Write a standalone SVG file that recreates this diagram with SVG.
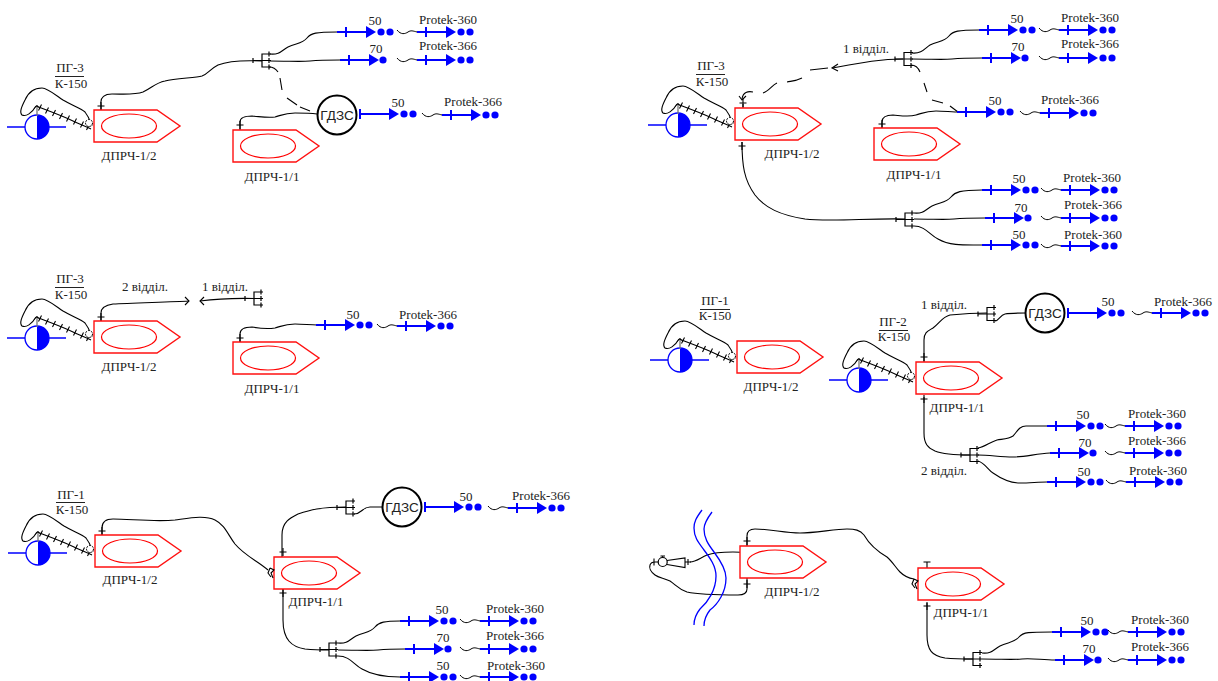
<svg xmlns="http://www.w3.org/2000/svg" width="1218" height="681" viewBox="0 0 1218 681">
<style>
text{font-family:"Liberation Serif","Times New Roman",serif;font-size:13px;fill:#222;text-anchor:middle}
.g{font-family:"Liberation Sans",Arial,sans-serif;font-size:13.5px}
.h{fill:none;stroke:#000;stroke-width:1.1}
.r{fill:#fff;stroke:#f11;stroke-width:1.4}
.e{fill:none;stroke:#f00;stroke-width:1.2}
.b{fill:none;stroke:#00f;stroke-width:2}
.bf{fill:#00f;stroke:none}
.w{fill:none;stroke:#00f;stroke-width:1.3}
.c{fill:#fff;stroke:#000;stroke-width:2}
</style>
<defs>
<g id="ship"><path class="r" d="M0 0H63L86 16L63 32H0Z"/><ellipse class="e" cx="35" cy="16" rx="27.500" ry="12"/></g>
<g id="tipA"><path class="b" d="M0 0H30M9-5V5"/><path class="bf" d="M29-6L39 0L29 6Z"/></g>
<g id="a2"><use href="#tipA"/><circle class="bf" cx="44" cy="0" r="3.600"/><circle class="bf" cx="53" cy="0" r="3.600"/></g>
<g id="a1"><use href="#tipA"/><circle class="bf" cx="43" cy="0" r="3.600"/></g>
<g id="ag"><path class="b" d="M0 0H30M0-5V5"/><path class="bf" d="M29-6L39 0L29 6Z"/><circle class="bf" cx="44" cy="0" r="3.600"/><circle class="bf" cx="53" cy="0" r="3.600"/></g>
<g id="far"><path class="h" style="stroke-width:1" d="M0-2C4 3 8 2 11 0S16-1 20 0"/><use href="#a2" x="20"/></g>
<g id="split"><path class="h" style="stroke-width:1.200" d="M9-6.500H0V6.500H9M-9 0H9M-9-2.500V2.500M7-9V-4M7-2.500V2.500M7 4V9"/></g>
<g id="pump"><path class="w" style="stroke-width:1.400" d="M-30 0H-12M12 0H29"/><path class="bf" d="M0-12A12 12 0 0 1 0 12Z"/><circle cx="0" cy="0" r="12" fill="none" stroke="#00f" stroke-width="1.300"/></g>
<g id="rig">
<path d="M0-11V-20" stroke="#777" stroke-width="1.300"/><path d="M-3-18L0-22L3-18" fill="none" stroke="#555"/>
<path class="h" d="M55-1C53-6 52-10 48-15C44-19 36-21 26-27C16-34 10-39 5-39C-3-39-9-34-12-27C-15-21-18-15-15-12C-11-10-5-14-1-21"/>
<path class="h" d="M-1-21C12-16 26-11 36-6C42-3 48-1 54 2"/>
<path class="h" d="M1.500-16.500L4.500-22.500M8.500-13.500L11.500-19.500M15.500-11L18.500-17M22.500-8L25.500-14M29.500-5.500L32.500-11.500M36.500-2.500L39.500-8.500M43.500 .5L46.500-5.500M49.500 3L52.500-3"/>
<circle cx="52" cy="-4" r="3.500" fill="#fff" stroke="#000" stroke-dasharray="2 1"/>
</g>
<g id="hook"><path class="h" d="M-4 1L0 3L-3 6L-1 11M-4 1L-6 6L-3 10"/></g>
<g id="tick"><path class="h" d="M-3.500 0H3.500M0-4V4"/></g>
<g id="tee"><path class="h" d="M-3.500-3H3.500M0-3V4"/></g>
</defs>

<g id="connectors">
<path class="h" d="M101 110V104C100 97 105 94 112 94C125 94 135 95 143 92C152 88 155 83 165 81C175 78 195 78 202 76C208 74 210 69 218 65C228 61 240 60 262 61"/>
<path class="h" d="M270 54C280 55 282 50 288 47C296 43 302 44 307 38C311 33 316 32 337 32"/>
<path class="h" d="M270 61C290 61 300 62 310 61C320 60 330 60 340 60"/>
<path class="h" d="M269 67C273 67 276 69 278 72M280 78L282 90M287 98L297 105M300 107L310 111"/>
<path class="h" d="M240 130V122C240 117 245 116 252 116C263 117 268 118 275 117C282 115 285 113 295 113C303 113 310 113 317 114"/>

<path class="h" d="M903 59C880 59 860 63 833 68"/>
<path class="h" d="M838 64L832 68L838 71"/>
<path class="h" d="M828 68L810 70M802 78C796 81 792 81 787 82M777 83C772 85 769 91 763 93M753 92C748 91 743 92 742 99"/>
<path class="h" d="M739 96L742 100L746 96M743 104V108"/>
<path class="h" d="M912 53C922 54 925 48 930 45C938 41 944 42 949 36C953 31 958 30 979 30"/>
<path class="h" d="M912 59C932 59 942 60 952 59C962 58 972 58 982 58"/>
<path class="h" d="M911 65C915 65 918 67 920 72M924 83L927 92M932 100L943 103M950 106L958 112"/>
<path class="h" d="M882 128V122C882 117 886 115 893 115C904 116 909 117 916 115C923 113 926 111 936 111C944 111 952 112 960 112"/>
<path class="h" d="M742 142C742 165 744 180 755 195C765 208 780 215 805 219C830 222 870 218 905 219"/>
<path class="h" d="M914 213C924 214 926 209 932 206C940 202 946 203 951 197C955 192 960 190 982 190"/>
<path class="h" d="M914 219C934 219 944 220 954 219C964 218 974 218 985 218"/>
<path class="h" d="M914 226C925 226 930 235 938 239C950 246 965 245 982 245"/>

<path class="h" d="M101 321V313C101 307 106 305 113 304C130 303 170 302 189 301"/>
<path class="h" d="M185 297L189 301L185 305"/>
<path class="h" d="M254 298.500C230 298 215 299 200 301"/>
<path class="h" d="M204 297L200 301L204 305"/>
<path class="h" d="M240 342V334C240 329 245 327 252 327C263 329 268 329 275 328C282 326 285 324 295 324C303 324 310 325 317 325"/>

<path class="h" d="M102 535V528C102 522 106 519 113 519C130 519 155 522 175 520C190 518 205 515 215 520C225 525 228 535 235 544C245 556 258 561 268 570"/>
<path class="h" d="M282 557V535C282 522 290 518 298 514C310 510 320 507 346 507"/>
<path class="h" d="M354 514C362 514 362 507 370 507H382"/>
<path class="h" d="M283 589V620C283 640 292 647 305 649C315 650 320 650 329 650"/>
<path class="h" d="M338 643C348 644 350 639 356 636C364 632 370 633 375 627C379 622 385 621 400 621"/>
<path class="h" d="M338 650C358 650 368 651 378 650C388 649 398 649 405 649"/>
<path class="h" d="M338 656C350 656 354 665 362 669C374 676 388 677 400 677"/>

<path class="h" d="M924 362V340C924 332 928 331 933 328C940 323 942 317 950 315C960 314 970 313 987 313"/>
<path class="h" d="M995 321C999 321 1000 315 1005 314C1010 313 1018 313 1026 313"/>
<path class="h" d="M924 397V433C924 444 928 448 935 451C945 455 960 455 970 455"/>
<path class="h" d="M978 448C985 447 990 442 997 440C1003 439 1009 439 1013 436C1017 432 1019 426 1026 426H1047"/>
<path class="h" d="M978 455C990 455 1000 457 1013 457C1025 457 1035 454 1050 453"/>
<path class="h" d="M978 461C985 463 988 470 993 473C1003 480 1012 483 1020 483C1030 483 1038 482 1047 482"/>

<path class="h" d="M747 546V536C747 531 750 529 755 529C770 529 785 533 800 533C815 533 835 529 847 529C855 529 860 530 864 535C868 542 875 550 887 557C892 561 896 568 900 572C904 576 908 578 914 579"/>
<path class="h" d="M927 603V635C927 650 932 656 945 658C955 659 963 659 973 659"/>
<path class="h" d="M982 653C992 654 994 649 1000 646C1008 642 1014 643 1019 637C1023 632 1029 632 1052 632"/>
<path class="h" d="M982 659C1002 659 1012 660 1022 659C1032 658 1042 660 1055 660"/>
<path class="h" d="M747 578V589C747 593 743 595 738 595C725 595 700 595 687 592C678 589 676 585 670 581C664 578 659 578 655 575C651 572 649 568 650 565C651 562 653 562 655 562"/>
<path class="h" d="M690 562C696 562 700 558 707 555C715 552 725 552 733 552C745 552 752 554 756 557C758 558 759 559 760 560"/>
<circle cx="760" cy="560" r="1.800"/>
<path class="w" style="stroke-width:1.300" d="M702 510C696 518 694 522 694 528C694 537 698 542 704 550C710 558 716 566 716 576C716 590 708 602 700 609C696 614 694 619 694 625"/>
<path class="w" style="stroke-width:1.300" d="M712 512C706 520 704 524 704 529C704 538 708 544 714 552C720 560 726 570 726 578C726 592 718 604 710 610C706 615 704 620 704 626"/>
<path class="h" d="M654 558.500V565.500M659 562H655M660.500 556H665M662.700 556V558"/>
<circle cx="662.700" cy="562" r="4.500" fill="#fff" stroke="#000" stroke-width="1.200"/>
<path class="h" d="M667 560.500L685 558V567.500L667 564.500M685 562H691M688 559V565"/>
</g>

<use href="#tick" x="101" y="106"/><use href="#tick" x="240" y="125"/><use href="#tick" x="743" y="103"/><use href="#tick" x="882" y="124"/><use href="#tick" x="742" y="146"/><use href="#tick" x="101" y="317"/><use href="#tick" x="240" y="338"/><use href="#tick" x="102" y="531"/><use href="#tick" x="283" y="552"/><use href="#tick" x="283" y="593"/><use href="#tick" x="924" y="357"/><use href="#tick" x="924" y="399"/><use href="#tick" x="747" y="541"/><use href="#tick" x="747" y="584"/><use href="#tee" x="927" y="565"/><use href="#tick" x="927" y="606"/>

<g id="panel-a">
<g id="pg3-a"><use href="#pump" x="37" y="127"/><use href="#rig" x="37" y="127"/><path d="M55 76.500H84" stroke="#222"/><text x="70" y="72">ПГ-3</text><text x="71" y="88">К-150</text></g>
<g id="dprch12-a"><use href="#ship" x="94" y="110"/><text x="129" y="160">ДПРЧ-1/2</text></g>
<g id="dprch11-a"><use href="#ship" x="233" y="130"/><text x="272" y="181">ДПРЧ-1/1</text></g>
<g id="split-a"><use href="#split" x="262" y="60.500"/></g>
<g id="gdzs-a"><circle class="c" cx="337" cy="115" r="19.500"/><text class="g" x="337" y="120">ГДЗС</text></g>
<use href="#a2" x="337" y="32"/><text x="375" y="25">50</text><use href="#far" x="397" y="32"/><text x="448" y="24">Protek-360</text>
<use href="#a1" x="340" y="60"/><text x="376" y="53">70</text><use href="#far" x="397" y="60"/><text x="448" y="50">Protek-366</text>
<use href="#ag" x="360" y="114"/><text x="398" y="107">50</text><use href="#far" x="422" y="115"/><text x="473" y="106">Protek-366</text>
</g>

<g id="panel-b">
<g id="pg3-b"><use href="#pump" x="678" y="125"/><use href="#rig" x="678" y="125"/><path d="M696 74.500H725" stroke="#222"/><text x="711" y="70">ПГ-3</text><text x="712" y="86">К-150</text></g>
<g id="dprch12-b"><use href="#ship" x="735" y="108"/><text x="792" y="158">ДПРЧ-1/2</text></g>
<g id="dprch11-b"><use href="#ship" x="874" y="128"/><text x="914" y="179">ДПРЧ-1/1</text></g>
<g id="split-b1"><use href="#split" x="904" y="59"/></g>
<g id="split-b2"><use href="#split" x="905" y="219.500"/></g>
<text x="866" y="53">1 відділ.</text>
<use href="#a2" x="979" y="30"/><text x="1017" y="23">50</text><use href="#far" x="1039" y="30"/><text x="1090" y="22">Protek-360</text>
<use href="#a1" x="982" y="58"/><text x="1018" y="51">70</text><use href="#far" x="1039" y="58"/><text x="1090" y="48">Protek-366</text>
<use href="#a2" x="957" y="112"/><text x="995" y="105">50</text><use href="#far" x="1020" y="113"/><text x="1070" y="104">Protek-366</text>
<use href="#a2" x="982" y="190"/><text x="1019" y="183">50</text><use href="#far" x="1041" y="190"/><text x="1092" y="182">Protek-360</text>
<use href="#a1" x="985" y="218"/><text x="1021" y="212">70</text><use href="#far" x="1041" y="218"/><text x="1093" y="209">Protek-366</text>
<use href="#a2" x="982" y="245"/><text x="1019" y="239">50</text><use href="#far" x="1041" y="246"/><text x="1093" y="239">Protek-360</text>
</g>

<g id="panel-c">
<g id="pg3-c"><use href="#pump" x="37" y="338"/><use href="#rig" x="37" y="338"/><path d="M55 287.500H84" stroke="#222"/><text x="70" y="283">ПГ-3</text><text x="71" y="299">К-150</text></g>
<g id="dprch12-c"><use href="#ship" x="94" y="321"/><text x="129" y="371">ДПРЧ-1/2</text></g>
<g id="dprch11-c"><use href="#ship" x="233" y="342"/><text x="272" y="393">ДПРЧ-1/1</text></g>
<g id="split-c"><use href="#split" x="254" y="298.500"/></g>
<text x="145" y="291">2 відділ.</text><text x="225" y="291">1 відділ.</text>
<use href="#a2" x="316" y="325"/><text x="353" y="319">50</text><use href="#far" x="377" y="326"/><text x="428" y="319">Protek-366</text>
</g>

<g id="panel-d">
<g id="pg1-d"><use href="#pump" x="38" y="553"/><use href="#rig" x="38" y="553"/><path d="M56 502.500H85" stroke="#222"/><text x="71" y="499">ПГ-1</text><text x="72" y="514">К-150</text></g>
<g id="dprch12-d"><use href="#ship" x="95" y="535"/><text x="130" y="584">ДПРЧ-1/2</text></g>
<g id="dprch11-d"><use href="#ship" x="274" y="557"/><text x="316" y="606">ДПРЧ-1/1</text><use href="#hook" transform="translate(274 567)"/></g>
<g id="split-d1"><use href="#split" x="346" y="507.500"/></g>
<g id="split-d2"><use href="#split" x="329" y="649.500"/></g>
<g id="gdzs-d"><circle class="c" cx="402" cy="507" r="19.500"/><text class="g" x="402" y="512">ГДЗС</text></g>
<use href="#ag" x="425" y="507"/><text x="466" y="501">50</text><use href="#far" x="488" y="508"/><text x="541" y="500">Protek-366</text>
<use href="#a2" x="400" y="621"/><text x="442" y="614">50</text><use href="#far" x="460" y="621"/><text x="515" y="613">Protek-360</text>
<use href="#a1" x="405" y="649"/><text x="443" y="642">70</text><use href="#far" x="460" y="649"/><text x="515" y="640">Protek-366</text>
<use href="#a2" x="400" y="677"/><text x="443" y="670">50</text><use href="#far" x="460" y="677"/><text x="516" y="670">Protek-360</text>
</g>

<g id="panel-e">
<g id="pg1-e"><use href="#pump" x="680" y="360"/><use href="#rig" x="680" y="360"/><text x="715" y="305">ПГ-1</text><path d="M700 309.500H730" stroke="#222"/><text x="715" y="320">К-150</text></g>
<g id="dprch12-e"><use href="#ship" x="737" y="341"/><text x="771" y="391">ДПРЧ-1/2</text></g>
<g id="pg2-e"><use href="#pump" x="859" y="380"/><use href="#rig" x="859" y="380"/><path d="M879 330.500H908" stroke="#222"/><text x="893" y="326">ПГ-2</text><text x="894" y="341">К-150</text></g>
<g id="dprch11-e"><use href="#ship" x="916" y="362"/><text x="957" y="412">ДПРЧ-1/1</text></g>
<g id="split-e1"><use href="#split" x="987" y="314"/></g>
<g id="split-e2"><use href="#split" x="970" y="455"/></g>
<g id="gdzs-e"><circle class="c" cx="1045" cy="313" r="19.500"/><text class="g" x="1045" y="318">ГДЗС</text></g>
<text x="944" y="309">1 відділ.</text><text x="944" y="475">2 відділ.</text>
<use href="#ag" x="1068" y="313"/><text x="1108" y="306">50</text><use href="#far" x="1132" y="313"/><text x="1183" y="306">Protek-366</text>
<use href="#a2" x="1047" y="426"/><text x="1083" y="419">50</text><use href="#far" x="1105" y="426"/><text x="1157" y="418">Protek-360</text>
<use href="#a1" x="1050" y="453"/><text x="1085" y="447">70</text><use href="#far" x="1105" y="453"/><text x="1157" y="445">Protek-366</text>
<use href="#a2" x="1047" y="482"/><text x="1084" y="476">50</text><use href="#far" x="1106" y="482"/><text x="1158" y="475">Protek-360</text>
</g>

<g id="panel-f">
<g id="dprch12-f"><use href="#ship" x="740" y="546"/><text x="792" y="596">ДПРЧ-1/2</text></g>
<g id="dprch11-f"><use href="#ship" x="918" y="568"/><text x="961" y="617">ДПРЧ-1/1</text><use href="#hook" transform="translate(918 578)"/></g>
<g id="split-f"><use href="#split" x="973" y="659"/></g>
<use href="#a2" x="1052" y="632"/><text x="1087" y="625">50</text><use href="#far" x="1108" y="632"/><text x="1160" y="624">Protek-360</text>
<use href="#a1" x="1055" y="660"/><text x="1089" y="653">70</text><use href="#far" x="1108" y="660"/><text x="1160" y="651">Protek-366</text>
</g>
</svg>
